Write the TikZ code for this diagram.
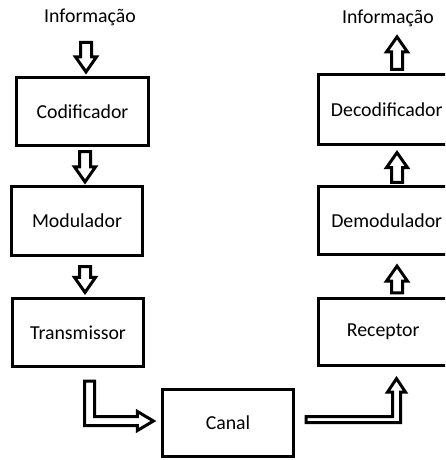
\documentclass[tikz,border=0pt]{standalone}
\usepackage{fontspec}
\setmainfont{Carlito}
\usetikzlibrary{calc}
\tikzset{
  box/.style={draw, line width=3.2pt, fill=white, inner sep=0pt, font=\fontsize{19.8}{23}\selectfont},
  lbl/.style={inner sep=0pt, font=\fontsize{19.8}{23}\selectfont},
  hollow/.style={draw, line width=3pt, fill=white, line join=miter}
}
\newcommand\arrdown[2]{\draw[hollow] let \p1=#1, \p2=#2 in
  (\x2-5.5pt,\y1) -- (\x2+5.5pt,\y1) -- (\x2+5.5pt,\y2+15pt) -- (\x2+10.5pt,\y2+15pt)
  -- (\x2,\y2) -- (\x2-10.5pt,\y2+15pt) -- (\x2-5.5pt,\y2+15pt) -- cycle;}
\newcommand\arrup[2]{\draw[hollow] let \p1=#1, \p2=#2 in
  (\x2-5.5pt,\y1) -- (\x2+5.5pt,\y1) -- (\x2+5.5pt,\y2-15pt) -- (\x2+10.5pt,\y2-15pt)
  -- (\x2,\y2) -- (\x2-10.5pt,\y2-15pt) -- (\x2-5.5pt,\y2-15pt) -- cycle;}
\begin{document}
\begin{tikzpicture}[x=1pt,y=-1pt]
\useasboundingbox (0,0) rectangle (445,460);
\clip (0,0) rectangle (445,460);
% labels
\node[lbl, anchor=base] (infoL) at (90,22.5) {Informação};
\node[lbl, anchor=base] (infoR) at (388,23.5) {Informação};
% left column
\node[box, minimum width=132pt, minimum height=68pt] (cod) at (82.5,111.5) {Codificador};
\node[box, minimum width=131pt, minimum height=69pt] (mod) at (77,221) {Modulador};
\node[box, minimum width=131pt, minimum height=68pt] (tra) at (78,332.5) {Transmissor};
\node[box, minimum width=131pt, minimum height=67pt] (can) at (228,423) {Canal};
% right column
\node[box, minimum width=136.5pt, minimum height=70pt] (dec) at (386.75,109.5) {Decodificador};
\node[box, minimum width=136.5pt, minimum height=68pt] (dem) at (386.75,220.5) {Demodulador};
\node[box, minimum width=136.5pt, minimum height=67pt] (rec) at (386.75,332) {\hspace*{-7pt}Receptor};
% straight arrows
\arrdown{([xshift=3.5pt,yshift=33.5pt]cod.north)}{([xshift=3.5pt,yshift=4pt]cod.north)}
\arrdown{([xshift=2.5pt,yshift=-4.5pt]cod.south)}{([xshift=8pt,yshift=3pt]mod.north)}
\arrdown{([xshift=8pt,yshift=-9.5pt]mod.south)}{([xshift=7pt,yshift=4.5pt]tra.north)}
\arrup{([xshift=10.25pt,yshift=3.5pt]dec.north)}{([xshift=10.25pt,yshift=36pt]dec.north)}
\arrup{([xshift=10.25pt,yshift=2.5pt]dem.north)}{([xshift=10.25pt,yshift=-6.5pt]dec.south)}
\arrup{([xshift=10.25pt,yshift=4pt]rec.north)}{([xshift=10.25pt,yshift=-10pt]dem.south)}
% bent arrow transmissor -> canal
\draw[hollow] let \p1=([xshift=11.5pt,yshift=-13pt]tra.south), \p2=([xshift=-7.5pt,yshift=2pt]can.west) in
  (\x1-5pt,\y1) -- (\x1+5pt,\y1) -- (\x1+5pt,\y2+4.5pt) -- (\x2-16pt,\y2+4.5pt)
  -- (\x2-16pt,\y2+9.5pt) -- (\x2,\y2) -- (\x2-16pt,\y2-9.5pt) -- (\x2-16pt,\y2-4.5pt)
  -- (\x1-5pt,\y2-4.5pt) -- cycle;
% bent arrow canal -> receptor
\draw[hollow] let \p1=([xshift=11pt,yshift=3.5pt]can.east), \p2=([xshift=9.75pt,yshift=-11.5pt]rec.south) in
  (\x1,\y1+3pt) -- (\x2-4pt,\y1+3pt) -- (\x2-4pt,\y2-13.5pt) -- (\x2-9pt,\y2-13.5pt)
  -- (\x2,\y2) -- (\x2+9pt,\y2-13.5pt) -- (\x2+4pt,\y2-13.5pt) -- (\x2+4pt,\y1-3pt)
  -- (\x1,\y1-3pt) -- cycle;
\end{tikzpicture}
\end{document}
